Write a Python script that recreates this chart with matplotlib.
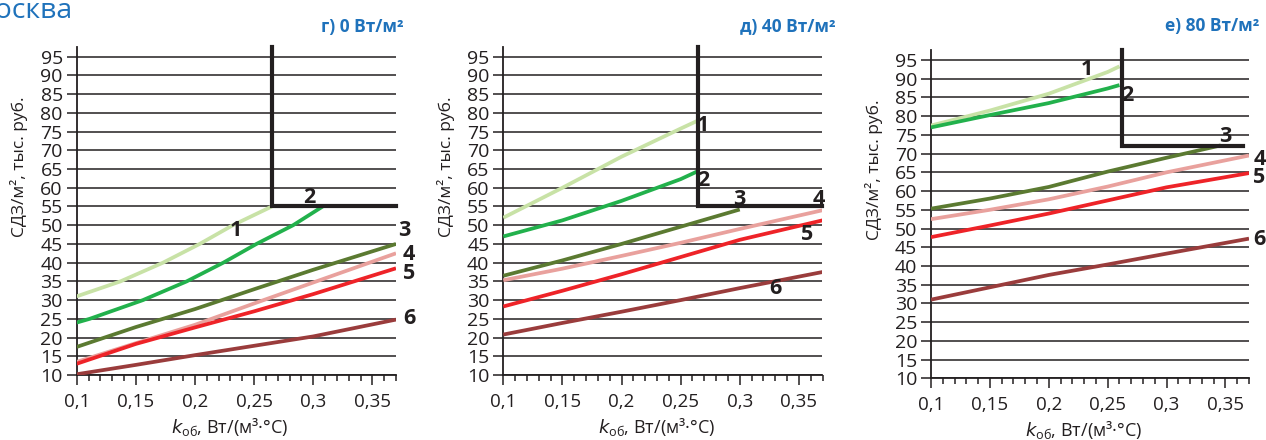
import matplotlib
matplotlib.use("Agg")
import matplotlib.pyplot as plt
from matplotlib.ticker import MultipleLocator, FixedLocator

plt.rcParams['font.family'] = ['Open Sans', 'DejaVu Sans']

# ---------------- data ----------------
panel_titles = ['г) 0 Вт/м²', 'д) 40 Вт/м²', 'е) 80 Вт/м²']
city = 'Москва'
ylabel = 'СДЗ/м², тыс. руб.'
xtick_vals = [0.10, 0.15, 0.20, 0.25, 0.30, 0.35]
xtick_labels = ['0,1', '0,15', '0,2', '0,25', '0,3', '0,35']
ytick_vals = [10, 15, 20, 25, 30, 35, 40, 45, 50, 55, 60, 65, 70, 75, 80, 85, 90, 95]
k_full = [0.10, 0.15, 0.20, 0.25, 0.30, 0.37]

# panel г) 0 W/m2
g1_k = [0.10, 0.137, 0.173, 0.204, 0.232, 0.265]
g1 = [31.0, 35.0, 40.0, 45.0, 50.0, 55.0]
g2_k = [0.10, 0.111, 0.156, 0.193, 0.224, 0.252, 0.283, 0.308]
g2 = [24.0, 25.0, 30.0, 35.0, 40.0, 45.0, 50.0, 55.0]
g3 = [17.5, 22.8, 27.6, 32.9, 38.1, 45.0]
g4 = [13.5, 18.5, 23.4, 29.1, 34.7, 42.5]
g5 = [13.0, 18.3, 22.7, 27.0, 31.6, 38.5]
g6 = [10.2, 12.7, 15.3, 17.8, 20.3, 24.8]

# panel д) 40 W/m2
d1_k = [0.10, 0.15, 0.20, 0.25, 0.265]
d1 = [52.0, 60.0, 68.3, 75.8, 78.0]
d2_k = [0.10, 0.15, 0.20, 0.25, 0.265]
d2 = [47.0, 51.3, 56.5, 62.3, 64.5]
d3_k = [0.10, 0.15, 0.20, 0.25, 0.30]
d3 = [36.5, 40.6, 45.0, 49.6, 54.2]
d4 = [35.3, 38.4, 41.8, 45.3, 49.0, 54.0]
d5 = [28.3, 32.5, 36.9, 41.5, 46.1, 51.3]
d6 = [20.8, 23.9, 26.9, 30.0, 33.2, 37.5]

# panel е) 80 W/m2
e1_k = [0.10, 0.15, 0.20, 0.25, 0.26]
e1 = [77.5, 81.5, 86.0, 91.8, 93.3]
e2_k = [0.10, 0.15, 0.20, 0.25, 0.26]
e2 = [77.0, 80.3, 83.5, 87.4, 88.3]
e3_k = [0.10, 0.15, 0.20, 0.25, 0.30, 0.346]
e3 = [55.3, 58.0, 61.1, 65.2, 68.9, 72.2]
e4 = [52.5, 55.0, 57.8, 61.2, 65.0, 69.5]
e5 = [47.7, 50.8, 54.0, 57.5, 61.0, 64.8]
e6 = [31.0, 34.3, 37.6, 40.4, 43.3, 47.3]

# optimum boundary (corner) lines: k limit, cost limit
bound_k = [0.265, 0.265, 0.262]
bound_c = [55.0, 55.0, 72.0]

colors = ['#c8e2a6', '#22b14c', '#5b7a31', '#e9a19d', '#ee2328', '#9a3c3c']

panels = [
    [(g1_k, g1), (g2_k, g2), (k_full, g3), (k_full, g4), (k_full, g5), (k_full, g6)],
    [(d1_k, d1), (d2_k, d2), (d3_k, d3), (k_full, d4), (k_full, d5), (k_full, d6)],
    [(e1_k, e1), (e2_k, e2), (e3_k, e3), (k_full, e4), (k_full, e5), (k_full, e6)],
]

label_pos = [
    [(0.235, 48.5), (0.297, 57.5), (0.377, 48.5), (0.381, 42.3), (0.381, 37.2), (0.381, 25.0)],
    [(0.269, 76.5), (0.269, 62.0), (0.300, 57.0), (0.367, 57.0), (0.357, 47.5), (0.330, 33.0)],
    [(0.232, 92.5), (0.267, 85.5), (0.350, 74.5), (0.379, 68.5), (0.379, 63.5), (0.379, 47.0)],
]

# ---------------- layout ----------------
W, H = 1266, 440
fig = plt.figure(figsize=(W / 100, H / 100), dpi=100)

ax_px = [(76.7, 396.0, 46.6, 375.0), (503.3, 822.5, 46.6, 375.0), (931.0, 1249.0, 49.9, 378.3)]
title_px = [(404, 32), (836, 32), (1259, 31)]

dark = '#231f20'
blue = '#1f72bb'

for i, (l, r, t, b) in enumerate(ax_px):
    ax = fig.add_axes([l / W, 1 - b / H, (r - l) / W, (b - t) / H])
    ax.set_xlim(0.10, 0.37)
    ax.set_ylim(10, 97.7)
    for s in ['top', 'right']:
        ax.spines[s].set_visible(False)
    for s in ['left', 'bottom']:
        ax.spines[s].set_color(dark)
        ax.spines[s].set_linewidth(1.3)
    ax.yaxis.set_major_locator(FixedLocator(ytick_vals))
    ax.set_yticklabels([str(v) for v in ytick_vals])
    ax.xaxis.set_major_locator(FixedLocator(xtick_vals))
    ax.set_xticklabels(xtick_labels)
    ax.xaxis.set_minor_locator(MultipleLocator(0.01))
    ax.tick_params(axis='y', direction='out', length=7, width=1.1, color=dark,
                   labelsize=14, labelcolor=dark, pad=3)
    ax.tick_params(axis='x', which='major', direction='out', length=7, width=1.1, color=dark,
                   labelsize=13.5, labelcolor=dark, pad=6)
    ax.tick_params(axis='x', which='minor', direction='out', length=4, width=1.1, color=dark)
    ax.grid(axis='y', color=dark, linewidth=1.1)
    ax.set_axisbelow(True)

    for j, (kk, vv) in enumerate(panels[i]):
        ax.plot(kk, vv, color=colors[j], linewidth=2.7, solid_capstyle='butt', zorder=3)
        lx, ly = label_pos[i][j]
        ax.text(lx, ly, str(j + 1), fontsize=15.5, fontweight='bold', color=dark,
                ha='center', va='center', zorder=5, clip_on=False)

    bk, bc = bound_k[i], bound_c[i]
    ax.plot([bk, bk, 0.37 if i < 2 else 0.365], [97.7, bc, bc], color=dark,
            linewidth=3.0, solid_joinstyle='miter', zorder=4, clip_on=False)

    ax.text(-0.18, 0.635, ylabel, transform=ax.transAxes, rotation=90,
            ha='center', va='center', fontsize=12.5, color=dark)
    ax.text(0.48, -0.158, '$k_{\\mathregular{об}}$, Вт/(м³·°С)', transform=ax.transAxes,
            ha='center', va='center', fontsize=13, color=dark)

    tx, ty = title_px[i]
    fig.text(tx / W, 1 - ty / H, panel_titles[i], ha='right', va='baseline',
             fontsize=12.5, fontweight='bold', color=blue)

fig.text(72 / W, 1 - 18 / H, city, ha='right', va='baseline', fontsize=20.5, color=blue)

fig.savefig('out.png', dpi=100)
